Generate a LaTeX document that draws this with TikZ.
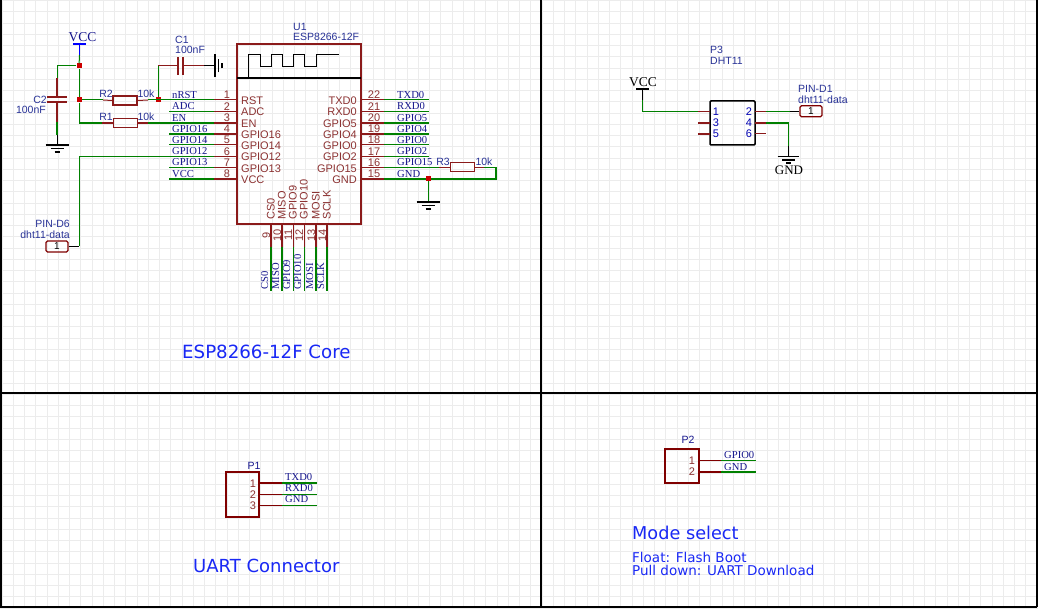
\documentclass[tikz,border=0pt]{standalone}
\usepackage{fontspec}
\setmainfont{Liberation Sans}
\newfontfamily\netfont{Liberation Serif}
\newfontfamily\titlefont{DejaVu Sans}
\usetikzlibrary{positioning}
\definecolor{wiregreen}{RGB}{0,128,0}
\definecolor{pinred}{RGB}{139,26,26}
\definecolor{boxred}{RGB}{128,0,0}
\definecolor{pintext}{RGB}{140,50,50}
\definecolor{nettext}{RGB}{20,20,140}
\definecolor{reftext}{RGB}{40,50,150}
\definecolor{titleblue}{RGB}{25,40,245}
\definecolor{gridgray}{RGB}{236,236,236}

\begin{document}
\begin{tikzpicture}
        [x=1pt, y=-1pt,
         gridline/.style={gridgray, line width=0.9pt},
         frameline/.style={black, line width=2pt},
         wire/.style={wiregreen, line width=1pt},
         wirethick/.style={wiregreen, line width=1.9pt},
         lead/.style={pinred, line width=1pt},
         leadthick/.style={pinred, line width=1.9pt},
         blackwire/.style={black, line width=1pt},
         plate/.style={pinred, line width=1.6pt},
         junction/.style={rectangle, fill=red!80!black, inner sep=0pt, minimum size=5pt},
         resistor/.style={rectangle, draw=pinred, line width=1pt, inner sep=0pt, minimum width=24pt, minimum height=9pt},
         vccbar/.style={rectangle, fill=#1, inner sep=0pt, minimum width=13pt, minimum height=1.8pt},
         netport/.style={rectangle, rounded corners=1.5pt, draw=boxred, line width=1.2pt, inner sep=0pt, minimum width=22pt, minimum height=11pt, font=\fontsize{10}{10}\selectfont},
         connbox/.style={rectangle, draw=boxred, line width=2pt, inner sep=0pt},
         netlabel/.style={anchor=base west, inner sep=0pt, text=nettext, font=\netfont\fontsize{10.6}{10.6}\selectfont},
         pinlabel/.style={anchor=base west, inner sep=0pt, text=pintext, font=\fontsize{11}{11}\selectfont},
         pinno/.style={anchor=base, inner sep=0pt, text=pintext, font=\fontsize{11}{11}\selectfont},
         reflabel/.style={anchor=base west, inner sep=0pt, text=reftext, font=\fontsize{10.5}{10.5}\selectfont},
         titlelabel/.style={anchor=base west, inner sep=0pt, text=titleblue, font=\titlefont\fontsize{#1}{#1}\selectfont},
         gndsym/.pic={
            \draw[black, line width=1.2pt] (-11.5,0) -- (11.5,0);
            \draw[black, line width=1.4pt] (-6.5,3.5) -- (6.5,3.5);
            \draw[black, line width=1.8pt] (-2.5,7) -- (2.5,7);
         }]
        \useasboundingbox (0,0) rectangle (1038,609);
        \fill[white] (0,0) rectangle (1038,609);

        % sheet grid and frame
        \foreach \gx in {0,...,92} \draw[gridline] ({2+11.25*\gx},0) -- ({2+11.25*\gx},609);
        \foreach \gy in {0,...,54} \draw[gridline] (0,{0.5+11.25*\gy}) -- (1038,{0.5+11.25*\gy});
        \draw[black, line width=3pt] (0,0) -- (0,607);
        \draw[frameline] (541,0) -- (541,607);
        \draw[frameline] (1037,0) -- (1037,607);
        \draw[frameline] (0,393) -- (1037,393);
        \draw[frameline] (0,607) -- (1037,607);

        % U1
        \coordinate (UL) at (237,44);
        \coordinate (UR) at (361,224);
        \draw[pinred, line width=2pt] (UL) rectangle (UR);
        \draw[black, line width=2pt] (237,78) -- (361,78);
        \draw[black, line width=1pt] (248.5,78) -- (248.5,55) -- (260,55) -- (260,66.5) -- (271,66.5) -- (271,55) -- (282,55) -- (282,66.5) -- (293,66.5) -- (293,55) -- (304,55) -- (304,66.5) -- (316,66.5) -- (316,55) -- (339,55);
        \node[reflabel] (Uref) at (293,30.5) {U1};
        \node[reflabel] (Uval) at (293,41) {ESP8266-12F};

        % left pins
        \foreach \n/\py/\lw/\pname/\nname in {1/100/1/RST/nRST, 2/111.2/1/ADC/ADC, 3/122.7/1.9/EN/EN, 4/134/1.9/GPIO16/GPIO16, 5/145/1/GPIO14/GPIO14, 6/156.2/1/GPIO12/GPIO12, 7/167.5/1.9/GPIO13/GPIO13, 8/178.7/1.9/VCC/VCC} {
            \coordinate (Lb\n) at (237,\py);
            \coordinate (Lp\n) at (214,\py);
            \coordinate (Ln\n) at (169,\py);
            \draw[pinred, line width=\lw pt] (Lb\n) -- (Lp\n);
            \draw[wiregreen, line width=\lw pt] (Lp\n) -- (Ln\n);
            \node[pinno] (Lno\n) at (227,\py-1) {\n};
            \node[pinlabel] (Lpn\n) at (241,\py+4.7) {\pname};
            \node[netlabel] (Lnn\n) at (172,\py-1.5) {\nname};
        }

        % right pins
        \foreach \n/\py/\lw/\pname/\nname in {22/100/1/TXD0/TXD0, 21/111.2/1/RXD0/RXD0, 20/122.7/1.9/GPIO5/GPIO5, 19/134/1.9/GPIO4/GPIO4, 18/145/1/GPIO0/GPIO0, 17/156.2/1/GPIO2/GPIO2, 16/167.5/1.9/GPIO15/GPIO15, 15/178.7/1.9/GND/GND} {
            \coordinate (Rb\n) at (361,\py);
            \coordinate (Rp\n) at (384,\py);
            \coordinate (Rn\n) at (429,\py);
            \draw[pinred, line width=\lw pt] (Rb\n) -- (Rp\n);
            \draw[wiregreen, line width=\lw pt] (Rp\n) -- (Rn\n);
            \node[pinno] (Rno\n) at (374,\py-1) {\n};
            \node[pinlabel, anchor=base east] (Rpn\n) at (357,\py+4.7) {\pname};
            \node[netlabel] (Rnn\n) at (397,\py-1.5) {\nname};
        }

        % bottom pins
        \foreach \n/\px/\lw/\pname in {9/271/1.9/CS0, 10/282/1.9/MISO, 11/293/1/GPIO9, 12/304/1/GPIO10, 13/316/1.9/MOSI, 14/327/1.9/SCLK} {
            \coordinate (Bb\n) at (\px,224);
            \coordinate (Bp\n) at (\px,247);
            \coordinate (Bn\n) at (\px,291.5);
            \draw[pinred, line width=\lw pt] (Bb\n) -- (Bp\n);
            \draw[wiregreen, line width=\lw pt] (Bp\n) -- (Bn\n);
            \node[pinno, rotate=90] (Bno\n) at (\px-1,235) {\n};
            \node[pinlabel, rotate=90] (Bpn\n) at (\px+3.5,219.5) {\pname};
            \node[netlabel, rotate=90] (Bnn\n) at (\px-3,290) {\pname};
        }

        % VCC, C1, C2, R1, R2
        \node[vccbar=blue] (VCCa) at (79.5,44) {};
        \node[anchor=base, inner sep=0pt, text=nettext, font=\netfont\fontsize{13.5}{13.5}\selectfont] (VCCt) at (82.5,41.5) {VCC};
        \node[junction] (Ja) at (79,66) {};
        \node[junction] (Jb) at (79,100) {};
        \node[junction] (Jc) at (158,100) {};
        \coordinate (VCCs) at (79.5,55);
        \draw[blue, line width=1pt] (VCCa) -- (VCCs);
        \draw[wire] (VCCs) -- (Ja);
        \draw[wire] (Ja) -- (Jb);

        \coordinate (Ctop) at (57,66);
        \coordinate (Cgb) at (57,78);
        \coordinate (Cpa) at (57,97);
        \coordinate (Cpb) at (57,102);
        \coordinate (Cgc) at (57,122);
        \coordinate (Cgd) at (57,135);
        \coordinate (Cgnd) at (57,145);
        \draw[wire] (Ja) -- (Ctop) -- (Cgb);
        \draw[leadthick] (Cgb) -- (Cpa);
        \draw[plate] ([xshift=-10pt]Cpa) -- ([xshift=10pt]Cpa);
        \draw[plate] ([xshift=-10pt]Cpb) -- ([xshift=10pt]Cpb);
        \draw[leadthick] (Cpb) -- (Cgc);
        \draw[wirethick] (Cgc) -- (Cgd);
        \draw[blackwire] (Cgd) -- (Cgnd);
        \pic at (Cgnd) {gndsym};
        \node[reflabel, anchor=base east] (Cref) at (47,104) {C2};
        \node[reflabel, anchor=base east] (Cval) at (46,114) {100nF};

        \coordinate (Dtop) at (158,66);
        \coordinate (Dpa) at (178,66);
        \coordinate (Dpb) at (183,66);
        \coordinate (Dr) at (204,66);
        \coordinate (Dgnd) at (215,66);
        \draw[wire] (Jc) -- (Dtop);
        \draw[lead] (Dtop) -- (Dpa);
        \draw[plate] ([yshift=-9pt]Dpa) -- ([yshift=9pt]Dpa);
        \draw[plate] ([yshift=-9pt]Dpb) -- ([yshift=9pt]Dpb);
        \draw[lead] (Dpb) -- (Dr);
        \draw[blackwire] (Dr) -- (Dgnd);
        \pic[rotate=90] at (Dgnd) {gndsym};
        \node[reflabel] (Dref) at (175,44) {C1};
        \node[reflabel] (Dval) at (175,54) {100nF};

        \node[resistor, line width=1.9pt] (Rb) at (125,100.5) {};
        \coordinate (Rba) at (103,100);
        \coordinate (Rbb) at (148,100);
        \draw[wire] (Jb) -- (Rba);
        \draw[lead] (Rba) -- (Rb.west);
        \draw[lead] (Rb.east) -- (Rbb);
        \draw[wire] (Rbb) -- (Lp1);
        \node[reflabel, anchor=base] (Rbt) at (106,97.5) {R2};
        \node[reflabel, anchor=base] (Rbv) at (146,97.5) {10k};

        \node[resistor] (Ra) at (125,122.7) {};
        \coordinate (Raa) at (102,122.7);
        \coordinate (Rab) at (148,122.7);
        \draw[wire] (Jb) -- (79,122.7) coordinate (Rat);
        \draw[wirethick] (Rat) -- (Raa);
        \draw[leadthick] (Raa) -- (Ra.west);
        \draw[leadthick] (Ra.east) -- (Rab);
        \draw[wirethick] (Rab) -- (Lp3);
        \node[reflabel, anchor=base] (Rat2) at (106,121) {R1};
        \node[reflabel, anchor=base] (Rav) at (146,121) {10k};

        % PIN-D6
        \node[netport] (Dsix) at (57,246.5) {1};
        \coordinate (Dsixa) at (79,246.5);
        \draw[blackwire] (Dsix.east) -- (Dsixa);
        \draw[wire] (Dsixa) |- (Lp6);
        \node[reflabel, anchor=base east] (Dsixn) at (70,228) {PIN-D6};
        \node[reflabel, anchor=base east] (Dsixv) at (70,239) {dht11-data};

        % R3 and GND
        \node[resistor] (Rc) at (462,167.5) {};
        \coordinate (Rca) at (439,167.5);
        \coordinate (Rcb) at (484,167.5);
        \coordinate (Rcc) at (496,167.5);
        \coordinate (Rcd) at (496,178.7);
        \draw[wirethick] (Rp16) -- (Rca);
        \draw[lead] (Rca) -- (Rc.west);
        \draw[lead] (Rc.east) -- (Rcb);
        \draw[wirethick] (Rcb) -- (Rcc) -- (Rcd) -- (Rp15);
        \node[junction] (Jd) at (428,178.7) {};
        \coordinate (Rgnd) at (428,202);
        \draw[wire] (Jd) -- (Rgnd);
        \pic at (Rgnd) {gndsym};
        \node[reflabel, anchor=base] (Rct) at (443,166) {R3};
        \node[reflabel, anchor=base] (Rcv) at (484,166) {10k};

        % P3
        \node[rectangle, rounded corners=1pt, draw=black, line width=1.5pt, inner sep=0pt, minimum width=45pt, minimum height=44pt] (Pc) at (732.5,123) {};
        \node[reflabel] (Pct) at (710,54) {P3};
        \node[reflabel] (Pcv) at (710,65) {DHT11};
        \foreach \n/\py/\lw in {1/111.3/1, 3/122.7/1.9, 5/134/1.9} {
            \coordinate (Pa\n) at (710,\py);
            \coordinate (Pb\n) at (698,\py);
            \draw[pinred, line width=\lw pt] (Pa\n) -- (Pb\n);
            \node[pinno, text=blue!70!black] (Pt\n) at (716,\py+4) {\n};
        }
        \foreach \n/\py/\lw in {2/111.3/1, 4/122.7/1.9, 6/134/1} {
            \coordinate (Qa\n) at (755,\py);
            \coordinate (Qb\n) at (766,\py);
            \draw[pinred, line width=\lw pt] (Qa\n) -- (Qb\n);
            \node[pinno, text=blue!70!black] (Qt\n) at (749,\py+4) {\n};
        }
        \node[vccbar=black] (VCCb) at (642.5,89) {};
        \node[anchor=base, inner sep=0pt, font=\netfont\fontsize{13.5}{13.5}\selectfont] (VCCu) at (643,86.5) {VCC};
        \coordinate (VCCc) at (642.5,100);
        \draw[blackwire] (VCCb) -- (VCCc);
        \draw[wire] (VCCc) |- (Pb1);
        \node[netport] (Done) at (811,111.3) {1};
        \coordinate (Donea) at (790,111.3);
        \draw[wire] (Qb2) -- (Donea);
        \draw[blackwire] (Donea) -- (Done.west);
        \node[reflabel] (Donen) at (798,93) {PIN-D1};
        \node[reflabel] (Donev) at (798,104) {dht11-data};
        \coordinate (Ggnd) at (788.5,156.5);
        \coordinate (Gga) at (788.5,146);
        \draw[wirethick] (Qb4) -- (788.5,122.7) coordinate (Ggt);
        \draw[wire] (Ggt) -- (Gga);
        \draw[blackwire] (Gga) -- (Ggnd);
        \pic[scale=0.95] at (Ggnd) {gndsym};
        \node[anchor=base, inner sep=0pt, font=\netfont\fontsize{13}{13}\selectfont] (GNDt) at (789,174.5) {GND};

        % P1
        \node[connbox, minimum width=33pt, minimum height=45pt] (Pa) at (242.5,494.5) {};
        \node[reflabel, anchor=base, text=nettext] (Pat) at (254,469) {P1};
        \foreach \n/\py/\lw/\nname in {1/483/1.9/TXD0, 2/494/1/RXD0, 3/505/1/GND} {
            \coordinate (Ua\n) at (259,\py);
            \coordinate (Ub\n) at (282,\py);
            \coordinate (Uc\n) at (316.5,\py);
            \draw[boxred, line width=\lw pt] (Ua\n) -- (Ub\n);
            \draw[wiregreen, line width=\lw pt] (Ub\n) -- (Uc\n);
            \node[pinno] (Uno\n) at (253,\py+4) {\n};
            \node[netlabel] (Unn\n) at (285,\py-2.5) {\nname};
        }

        % P2
        \node[connbox, minimum width=34pt, minimum height=34pt] (Pb) at (681.7,466) {};
        \node[reflabel, anchor=base, text=nettext] (Pbt) at (688,443) {P2};
        \foreach \n/\py/\lw/\nname in {1/460/1/GPIO0, 2/471.7/1.9/GND} {
            \coordinate (Va\n) at (699,\py);
            \coordinate (Vb\n) at (721,\py);
            \coordinate (Vc\n) at (755.5,\py);
            \draw[boxred, line width=\lw pt] (Va\n) -- (Vb\n);
            \draw[wiregreen, line width=\lw pt] (Vb\n) -- (Vc\n);
            \node[pinno] (Vno\n) at (692,\py+4) {\n};
            \node[netlabel] (Vnn\n) at (724,\py-1.5) {\nname};
        }

        % sheet titles
        \node[titlelabel=18.2] (Ta) at (182,358.5) {ESP8266-12F Core};
        \node[titlelabel=18] (Tb) at (193,572.5) {UART Connector};
        \node[titlelabel=17.7] (Tc) at (632,539) {Mode select};
        \node[titlelabel=13.5] (Td) at (632,562) {Float: Flash Boot};
        \node[titlelabel=13.5] (Te) at (632,575) {Pull down: UART Download};
    \end{tikzpicture}
\end{document}
